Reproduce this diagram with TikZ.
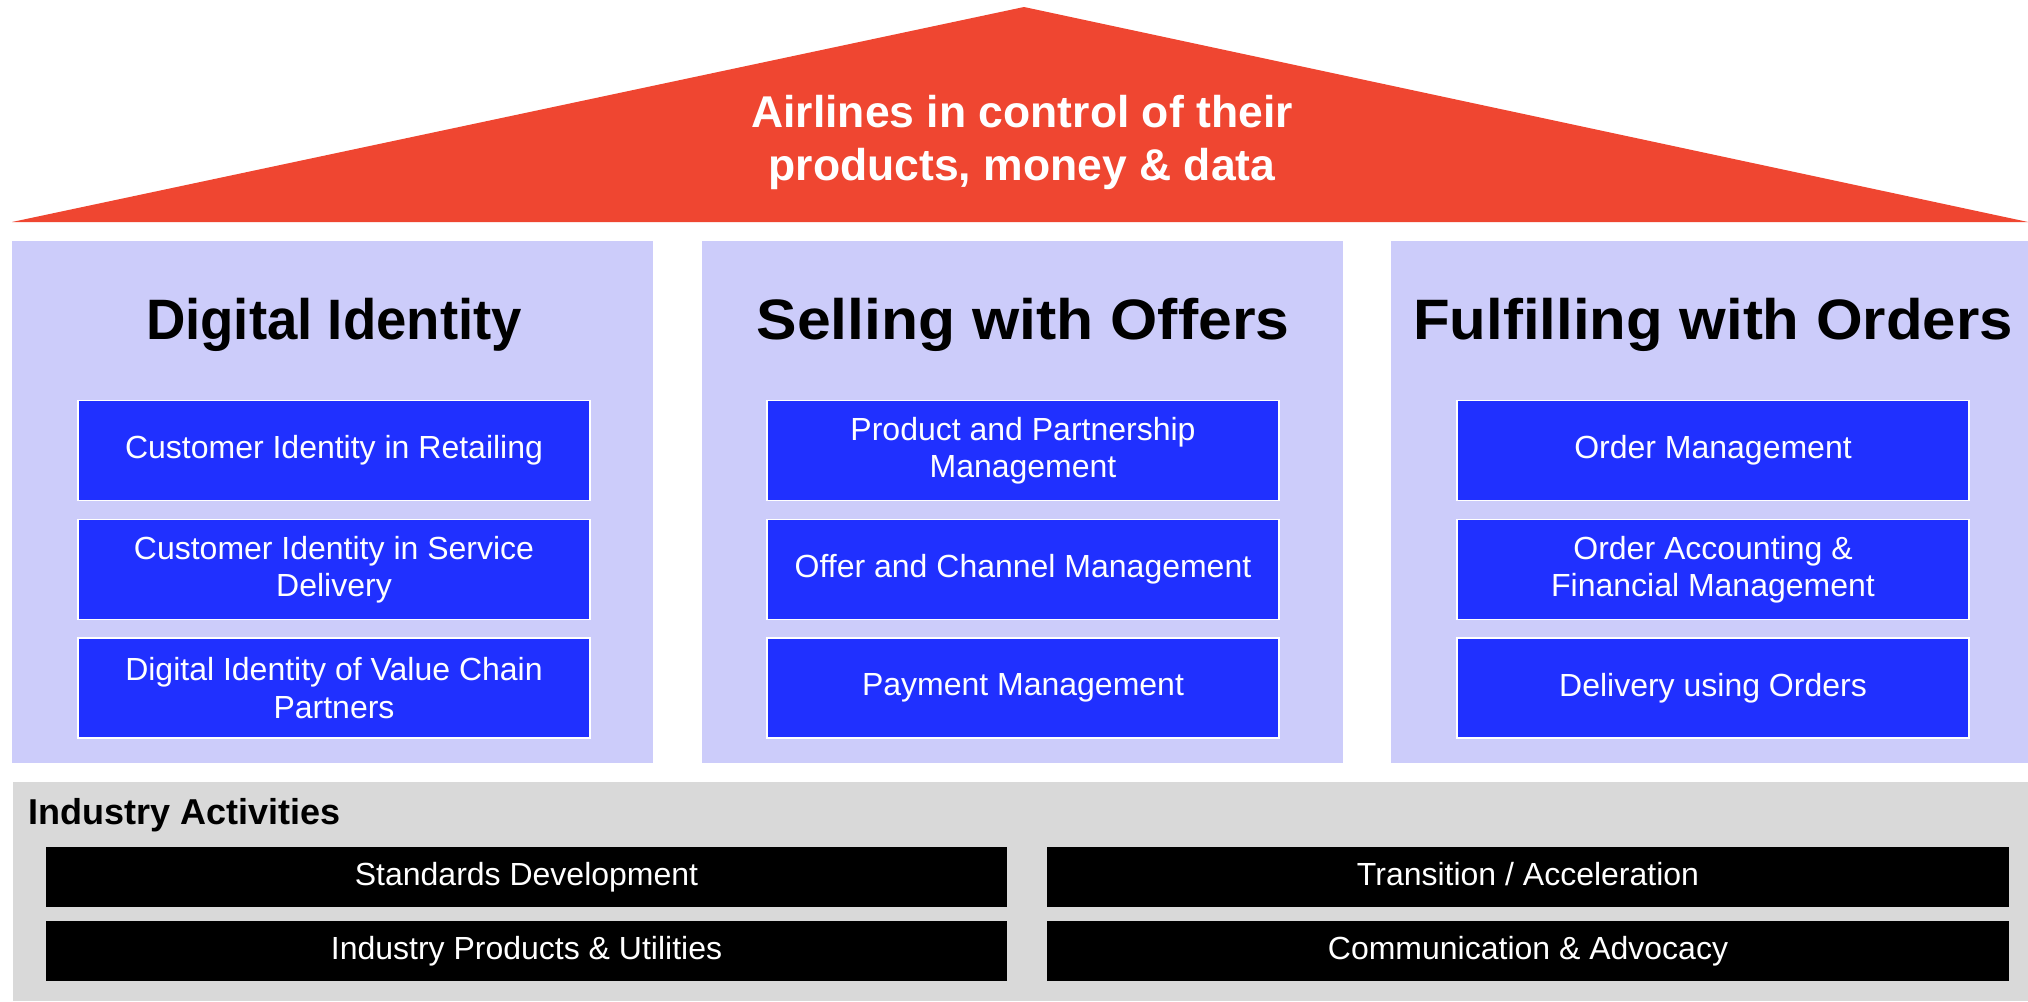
\documentclass[tikz,border=0pt]{standalone}
\usepackage{fontspec}
\setmainfont{Liberation Sans}
\definecolor{roofred}{HTML}{EF4631}
\definecolor{panelfill}{HTML}{CCCCFA}
\definecolor{capblue}{HTML}{2030FF}
\definecolor{basegray}{HTML}{D9D9D9}
\tikzset{
  panelbox/.style={fill=panelfill, draw=none, inner sep=0pt, outer sep=0pt,
    minimum width=641pt, minimum height=522pt},
  paneltitle/.style={anchor=base, inner sep=0pt, text=black,
    font=\fontsize{57}{68}\selectfont\bfseries},
  capbox/.style={fill=capblue, draw=white, line width=1.5pt, text=white,
    align=center, inner sep=0pt, outer sep=0pt,
    minimum width=512pt, minimum height=100pt,
    font=\fontsize{32}{37.5}\selectfont},
  actbox/.style={fill=black, draw=white!85!black, line width=1.5pt, text=white,
    align=center, inner sep=0pt, outer sep=0pt, text height=23pt, text depth=7pt,
    minimum width=963pt, minimum height=62pt,
    font=\fontsize{32}{37.5}\selectfont},
}
\begin{document}
\begin{tikzpicture}[x=1pt,y=-1pt]
\useasboundingbox (0,0) rectangle (2028,1001);
\fill[white] (0,0) rectangle (2028,1001);

% roof
\fill[roofred] (12,222) -- (1024,7) -- (2028,222) -- cycle;
\node[anchor=base, inner sep=0pt, text=white, align=center,
  font=\fontsize{44.5}{53}\selectfont\bfseries] (roof) at (1022,180)
  {Airlines in control of their\\products, money \& data};

% pillars
\node[panelbox] (p1) at (332.5,502) {};
\node[panelbox] (p2) at (1022,502) {};
\node[panelbox, minimum width=637pt] (p3) at (1709.5,502) {};

\node[paneltitle] (t1) at (334,339) {\scalebox{0.957}[1]{Digital Identity}};
\node[paneltitle] (t2) at (1023,339) {\scalebox{1.065}[1]{Selling with Offers}};
\node[paneltitle] (t3) at (1713,339) {\scalebox{1.052}[1]{Fulfilling with Orders}};

\node[capbox] (a1) at (334,450.5) {Customer Identity in Retailing};
\node[capbox] (a2) at (334,569.5) {Customer Identity in Service\\Delivery};
\node[capbox] (a3) at (334,688) {Digital Identity of Value Chain\\Partners};

\node[capbox] (b1) at (1023,450.5) {Product and Partnership\\Management};
\node[capbox] (b2) at (1023,569.5) {Offer and Channel Management};
\node[capbox] (b3) at (1023,688) {Payment Management};

\node[capbox] (c1) at (1713,450.5) {Order Management};
\node[capbox] (c2) at (1713,569.5) {Order Accounting \&\\Financial Management};
\node[capbox] (c3) at (1713,688) {Delivery using Orders};

% foundation
\node[fill=basegray, inner sep=0pt, outer sep=0pt, minimum width=2015pt,
  minimum height=219pt] (base) at (1020.5,891.5) {};
\node[anchor=base west, inner sep=0pt,
  font=\fontsize{36}{42}\selectfont\bfseries] (basetitle) at (28,824)
  {Industry Activities};

\node[actbox] (d1) at (526.5,877) {Standards Development};
\node[actbox] (d2) at (526.5,951) {Industry Products \& Utilities};
\node[actbox] (d3) at (1528,877) {Transition / Acceleration};
\node[actbox] (d4) at (1528,951) {Communication \& Advocacy};
\end{tikzpicture}
\end{document}
